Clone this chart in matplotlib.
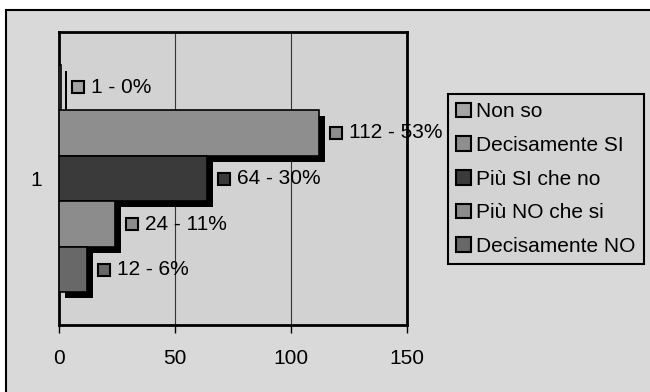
import matplotlib
matplotlib.use("Agg")
import matplotlib.pyplot as plt
from matplotlib.patches import Rectangle, Patch
from matplotlib.transforms import ScaledTranslation, offset_copy

plt.rcParams["font.family"] = ["Liberation Sans", "DejaVu Sans"]

# ---------------------------------------
# Data
# ---------------------------------------

categories = ["1"]
series = ["Non so", "Decisamente SI", "Più SI che no", "Più NO che si", "Decisamente NO"]
values = [1, 112, 64, 24, 12]
percents = [0, 53, 30, 11, 6]
colors = ["#a4a4a4", "#8e8e8e", "#3a3a3a", "#8c8c8c", "#686868"]
xticks = [0, 50, 100, 150]

FS = 15

# ---------------------------------------
# Figure
# ---------------------------------------

fig = plt.figure(figsize=(6.5, 3.92), dpi=100, facecolor="white")

# chart area frame
frame = Rectangle((6 / 650, -0.1), 1.2, 1 - 10 / 392 + 0.1,
                  transform=fig.transFigure, facecolor="#d9d9d9",
                  edgecolor="black", linewidth=1.5, zorder=-5)
fig.patches.append(frame)

ax = fig.add_axes([59 / 650, 1 - 325 / 392, 348 / 650, 293 / 392])
ax.set_facecolor("#d2d2d2")

bar_h = 0.1556
n = len(series)
shadow = ax.transData + ScaledTranslation(6 / 100, -6 / 100, fig.dpi_scale_trans)
key_tr = offset_copy(ax.transData, fig=fig, x=17, y=0, units="dots")
text_tr = offset_copy(ax.transData, fig=fig, x=30, y=0, units="dots")

for i in range(n):
    y = (i - (n - 1) / 2) * bar_h
    ax.barh(y, values[i], height=bar_h, color="black", transform=shadow, zorder=2)
    ax.barh(y, values[i], height=bar_h, color=colors[i], edgecolor="black",
            linewidth=1.2, zorder=3)
    ax.plot(values[i], y, marker="s", markersize=8, markerfacecolor=colors[i],
            markeredgecolor="black", markeredgewidth=1.5, transform=key_tr,
            zorder=4, clip_on=False)
    ax.text(values[i], y, f"{values[i]} - {percents[i]}%", transform=text_tr,
            fontsize=FS, va="center", ha="left", zorder=4, clip_on=False)

ax.set_xlim(0, 150)
ax.set_ylim(0.5, -0.5)
ax.set_xticks(xticks)
ax.set_xticklabels([str(t) for t in xticks])
ax.set_yticks([0])
ax.set_yticklabels(categories)
ax.tick_params(axis="x", direction="out", length=6, width=1, pad=11, labelsize=FS)
ax.tick_params(axis="y", length=0, pad=12, labelsize=FS)

ax.grid(axis="x", color="#333333", linewidth=0.8, zorder=1)
ax.set_axisbelow(True)
for s in ax.spines.values():
    s.set_linewidth(2)

# ---------------------------------------
# Legend
# ---------------------------------------

handles = [Patch(facecolor=c, edgecolor="black", linewidth=1.5) for c in colors]
leg = fig.legend(handles, series, loc="upper left",
                 bbox_to_anchor=(448 / 650, 1 - 94 / 392), fontsize=FS,
                 frameon=True, fancybox=False, borderpad=0.4, labelspacing=0.7,
                 handlelength=0.7, handleheight=0.7, handletextpad=0.25,
                 borderaxespad=0)
leg.get_frame().set_facecolor("#d3d3d3")
leg.get_frame().set_edgecolor("black")
leg.get_frame().set_linewidth(1.5)
leg.get_frame().set_alpha(1)

plt.savefig("out.png", dpi=100)
